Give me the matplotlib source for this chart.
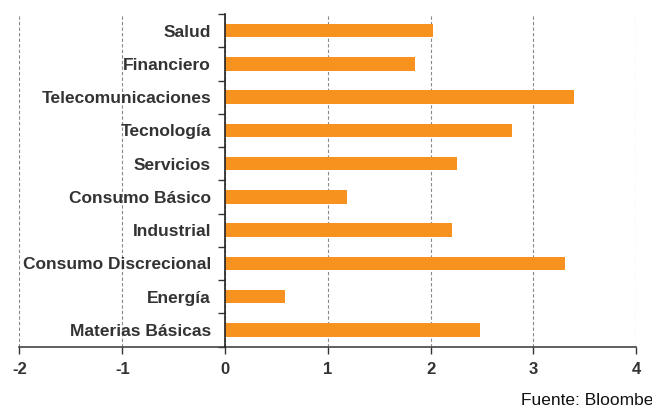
import numpy as np
import matplotlib.pyplot as plt
from matplotlib.ticker import FixedLocator

sectores = ['Materias Básicas', 'Energía', 'Consumo Discrecional', 'Industrial',
            'Consumo Básico', 'Servicios', 'Tecnología', 'Telecomunicaciones',
            'Financiero', 'Salud']
valores = [2.48, 0.58, 3.31, 2.21, 1.19, 2.26, 2.79, 3.40, 1.85, 2.02]
x_ticks = [-2, -1, 0, 1, 2, 3, 4]

plt.rcParams['font.family'] = ['Liberation Sans', 'DejaVu Sans']

fig = plt.figure(figsize=(6.52, 4.16), dpi=100)
ax = fig.add_axes([0.0299, 0.167, 0.9456, 0.7993])

# spines first: set_position resets the ticks
for s in ['top', 'right']:
    ax.spines[s].set_visible(False)
ax.spines['left'].set_position(('data', 0))
ax.spines['left'].set_color('#222222')
ax.spines['left'].set_linewidth(1.2)
ax.spines['left'].set_zorder(4)
ax.spines['bottom'].set_color('#444444')
ax.spines['bottom'].set_linewidth(1.2)

y = np.arange(len(sectores))
ax.barh(y, valores, height=0.4, color='#F7921E', zorder=3)

ax.set_xlim(-2, 4)
ax.set_ylim(-0.5, len(sectores) - 0.5)
ax.yaxis.set_minor_locator(FixedLocator(np.arange(len(sectores) + 1) - 0.5))
ax.tick_params(axis='y', which='major', length=0, pad=10)
ax.tick_params(axis='y', which='minor', length=5, width=1, color='#333333', direction='out')
ax.tick_params(axis='x', length=5, width=1, color='#333333', direction='out', pad=6)

ax.set_xticks(x_ticks)
ax.set_xticklabels([str(v) for v in x_ticks], fontsize=12, fontweight='bold', color='#333333')
ax.set_yticks(y)
ax.set_yticklabels(sectores, fontsize=12.5, fontweight='bold', color='#333333')

ax.grid(axis='x', color='#888888', linestyle=(0, (3, 2)), linewidth=0.8, zorder=0)

fig.text(0.799, 0.038, 'Fuente: Bloomberg', fontsize=12.5, color='#111111', ha='left', va='center')

fig.savefig('out.png', dpi=100)
